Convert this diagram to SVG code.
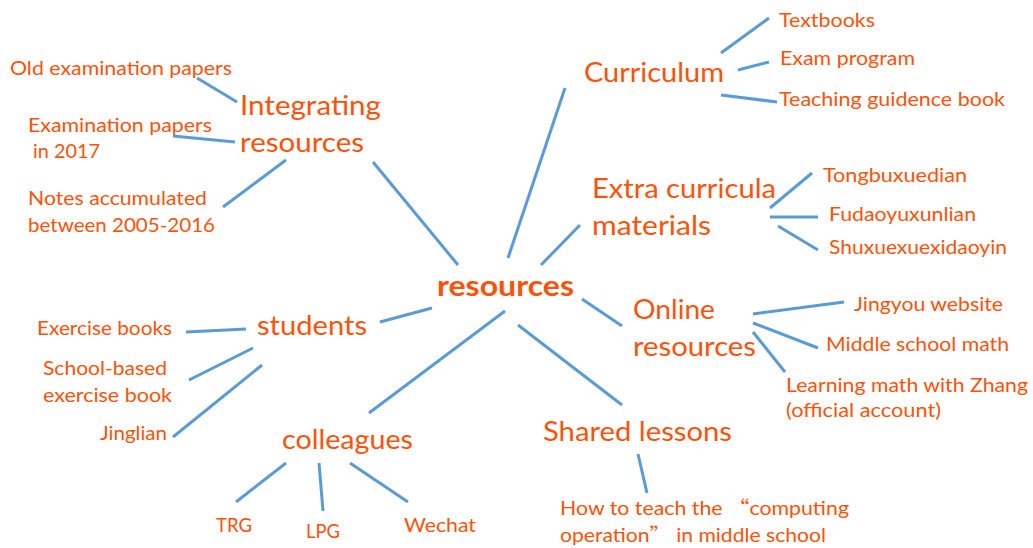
<svg xmlns="http://www.w3.org/2000/svg" width="1033" height="548" viewBox="0 0 1033 548">
<style>
text{font-family:Lato,"Liberation Sans","Noto Sans CJK SC",sans-serif;fill:#FF5208}
.b{font-size:27px}
.s{font-size:19px}
.c{font-size:28px;font-weight:bold}
.q{font-family:"Noto Sans CJK SC",sans-serif}
#connectors line{stroke:#5B9BD5;stroke-width:3;stroke-linecap:butt}
</style>
<rect width="1033" height="548" fill="#fff"/>
<g id="connectors">
<line x1="373" y1="162" x2="458" y2="265"/>
<line x1="197" y1="78" x2="237" y2="102"/>
<line x1="173" y1="136" x2="235" y2="142"/>
<line x1="223" y1="207" x2="286" y2="160"/>
<line x1="565" y1="88" x2="508" y2="258"/>
<line x1="721" y1="53" x2="769" y2="18"/>
<line x1="738" y1="70" x2="769" y2="62"/>
<line x1="721" y1="95" x2="777" y2="102"/>
<line x1="580" y1="225" x2="541" y2="265"/>
<line x1="770" y1="208" x2="812" y2="173"/>
<line x1="770" y1="217" x2="818" y2="217"/>
<line x1="778" y1="226" x2="818" y2="250"/>
<line x1="582" y1="299" x2="622" y2="326"/>
<line x1="753" y1="314" x2="844" y2="302"/>
<line x1="753" y1="323" x2="818" y2="348"/>
<line x1="753" y1="332" x2="785" y2="372"/>
<line x1="518" y1="325" x2="622" y2="405"/>
<line x1="638" y1="454" x2="647" y2="493"/>
<line x1="380" y1="322" x2="432" y2="308"/>
<line x1="186" y1="332" x2="246" y2="329"/>
<line x1="189" y1="380" x2="253" y2="348"/>
<line x1="173" y1="437" x2="262" y2="365"/>
<line x1="505" y1="311" x2="369" y2="413"/>
<line x1="286" y1="463" x2="236" y2="502"/>
<line x1="319" y1="463" x2="323" y2="511"/>
<line x1="350" y1="463" x2="408" y2="502"/>
</g>
<g id="center"><text class="c" x="437" y="296" textLength="137" lengthAdjust="spacingAndGlyphs">resources</text></g>
<g id="integrating">
<text class="b" x="240" y="115" textLength="141" lengthAdjust="spacingAndGlyphs">Integrating</text>
<text class="b" x="240" y="152" textLength="124" lengthAdjust="spacingAndGlyphs">resources</text>
</g>
<g id="old-papers"><text class="s" x="10" y="75" textLength="222" lengthAdjust="spacingAndGlyphs">Old examination papers</text></g>
<g id="papers-2017">
<text class="s" x="28" y="132" textLength="184" lengthAdjust="spacingAndGlyphs">Examination papers</text>
<text class="s" x="33" y="158" textLength="67" lengthAdjust="spacingAndGlyphs">in 2017</text>
</g>
<g id="notes">
<text class="s" x="28" y="205" textLength="179" lengthAdjust="spacingAndGlyphs">Notes accumulated</text>
<text class="s" x="28" y="232" textLength="187" lengthAdjust="spacingAndGlyphs">between 2005-2016</text>
</g>
<g id="curriculum"><text class="b" x="584" y="82" textLength="140" lengthAdjust="spacingAndGlyphs">Curriculum</text></g>
<g id="textbooks"><text class="s" x="779" y="27" textLength="96" lengthAdjust="spacingAndGlyphs">Textbooks</text></g>
<g id="exam-program"><text class="s" x="780" y="65" textLength="135" lengthAdjust="spacingAndGlyphs">Exam program</text></g>
<g id="teaching-guide"><text class="s" x="779" y="106" textLength="226" lengthAdjust="spacingAndGlyphs">Teaching guidence book</text></g>
<g id="extra">
<text class="b" x="592" y="198" textLength="184" lengthAdjust="spacingAndGlyphs">Extra curricula</text>
<text class="b" x="592" y="235" textLength="119" lengthAdjust="spacingAndGlyphs">materials</text>
</g>
<g id="tongbu"><text class="s" x="823" y="182" textLength="144" lengthAdjust="spacingAndGlyphs">Tongbuxuedian</text></g>
<g id="fudao"><text class="s" x="829" y="221" textLength="147" lengthAdjust="spacingAndGlyphs">Fudaoyuxunlian</text></g>
<g id="shuxue"><text class="s" x="829" y="254" textLength="178" lengthAdjust="spacingAndGlyphs">Shuxuexuexidaoyin</text></g>
<g id="online">
<text class="b" x="633" y="319" textLength="82" lengthAdjust="spacingAndGlyphs">Online</text>
<text class="b" x="633" y="356" textLength="123" lengthAdjust="spacingAndGlyphs">resources</text>
</g>
<g id="jingyou"><text class="s" x="854" y="311" textLength="149" lengthAdjust="spacingAndGlyphs">Jingyou website</text></g>
<g id="middle-math"><text class="s" x="826" y="351" textLength="183" lengthAdjust="spacingAndGlyphs">Middle school math</text></g>
<g id="zhang">
<text class="s" x="786" y="392" textLength="242" lengthAdjust="spacingAndGlyphs">Learning math with Zhang</text>
<text class="s" x="786" y="417" textLength="155" lengthAdjust="spacingAndGlyphs">(official account)</text>
</g>
<g id="shared"><text class="b" x="543" y="441" textLength="189" lengthAdjust="spacingAndGlyphs">Shared lessons</text></g>
<g id="how-to">
<text class="s" x="560" y="515" textLength="289" lengthAdjust="spacingAndGlyphs">How to teach the <tspan class="q">“</tspan>computing</text>
<text class="s" x="560" y="542" textLength="266" lengthAdjust="spacingAndGlyphs">operation<tspan class="q">”</tspan> in middle school</text>
</g>
<g id="students"><text class="b" x="257" y="335" textLength="110" lengthAdjust="spacingAndGlyphs">students</text></g>
<g id="exercise-books"><text class="s" x="37" y="335" textLength="135" lengthAdjust="spacingAndGlyphs">Exercise books</text></g>
<g id="school-based">
<text class="s" x="43" y="375" textLength="124" lengthAdjust="spacingAndGlyphs">School-based</text>
<text class="s" x="43" y="402" textLength="129" lengthAdjust="spacingAndGlyphs">exercise book</text>
</g>
<g id="jinglian"><text class="s" x="100" y="440" textLength="67" lengthAdjust="spacingAndGlyphs">Jinglian</text></g>
<g id="colleagues"><text class="b" x="282" y="449" textLength="131" lengthAdjust="spacingAndGlyphs">colleagues</text></g>
<g id="trg"><text class="s" x="216" y="532" textLength="36" lengthAdjust="spacingAndGlyphs">TRG</text></g>
<g id="lpg"><text class="s" x="306" y="538" textLength="34" lengthAdjust="spacingAndGlyphs">LPG</text></g>
<g id="wechat"><text class="s" x="404" y="532" textLength="72" lengthAdjust="spacingAndGlyphs">Wechat</text></g>
</svg>
